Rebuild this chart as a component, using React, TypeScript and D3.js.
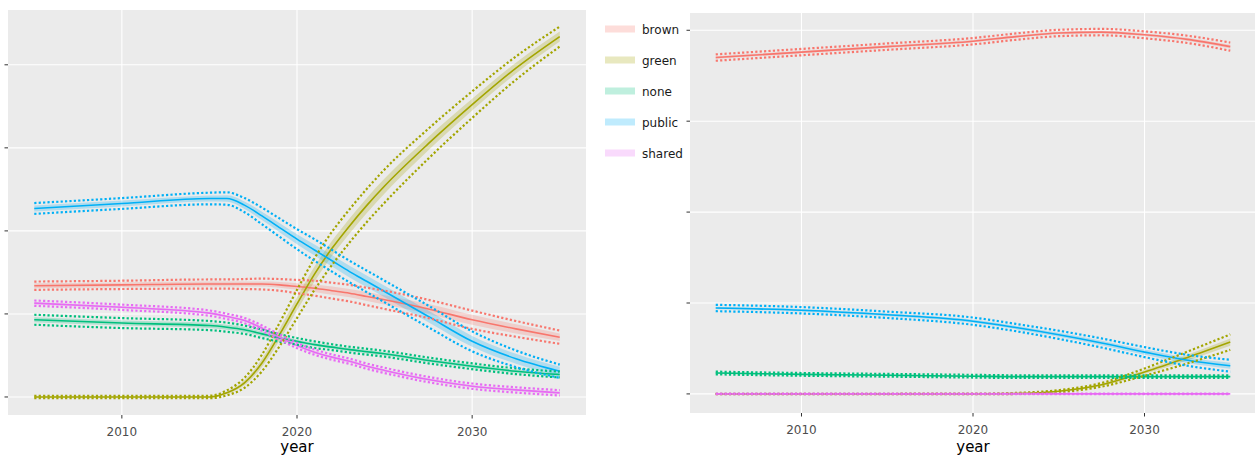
import React from "react";
import * as d3 from "d3";

// modes, in legend order
const modes = ["brown", "green", "none", "public", "shared"];
const modeColors = ["#F8766D", "#A3A500", "#00BF7D", "#00B0F6", "#E76BF3"];
const xTicks = [2010, 2020, 2030];
const yTicks = [0, 1, 2, 3, 4];

// left panel (one gridline step = 1 unit)
const leftYears = [2005, 2010, 2015, 2016, 2017, 2018, 2019, 2020, 2021, 2022, 2023, 2024, 2025, 2027.5, 2030, 2032.5, 2035];
const leftMid = [
  [1.34, 1.35, 1.36, 1.36, 1.36, 1.36, 1.35, 1.33, 1.31, 1.28, 1.25, 1.21, 1.17, 1.06, 0.93, 0.82, 0.72], // brown
  [0, 0, 0, 0.05, 0.17, 0.41, 0.75, 1.12, 1.48, 1.79, 2.06, 2.31, 2.54, 3.05, 3.52, 3.96, 4.34], // green
  [0.93, 0.89, 0.86, 0.84, 0.81, 0.76, 0.71, 0.67, 0.63, 0.6, 0.57, 0.545, 0.52, 0.44, 0.37, 0.31, 0.27], // none
  [2.27, 2.33, 2.39, 2.39, 2.31, 2.18, 2.04, 1.9, 1.77, 1.64, 1.51, 1.39, 1.27, 0.97, 0.67, 0.46, 0.31], // public
  [1.13, 1.08, 1.01, 0.97, 0.92, 0.83, 0.72, 0.62, 0.54, 0.48, 0.43, 0.37, 0.32, 0.21, 0.13, 0.085, 0.05], // shared
];
// half width of the shaded ribbon
const leftRibbon = [
  [0.03, 0.03, 0.03, 0.03, 0.03, 0.03, 0.035, 0.04, 0.045, 0.05, 0.05, 0.055, 0.055, 0.06, 0.06, 0.055, 0.045],
  [0.005, 0.005, 0.005, 0.015, 0.03, 0.05, 0.07, 0.08, 0.09, 0.09, 0.09, 0.09, 0.09, 0.08, 0.07, 0.065, 0.06],
  [0.03, 0.03, 0.03, 0.03, 0.03, 0.028, 0.025, 0.022, 0.02, 0.02, 0.02, 0.02, 0.02, 0.02, 0.02, 0.02, 0.02],
  [0.035, 0.035, 0.035, 0.04, 0.045, 0.05, 0.055, 0.06, 0.065, 0.07, 0.07, 0.07, 0.07, 0.07, 0.065, 0.06, 0.055],
  [0.015, 0.015, 0.015, 0.015, 0.015, 0.015, 0.015, 0.015, 0.015, 0.015, 0.015, 0.015, 0.015, 0.015, 0.015, 0.015, 0.015],
];
// half width of the dotted band
const leftBand = [
  [0.05, 0.05, 0.055, 0.055, 0.06, 0.065, 0.07, 0.08, 0.09, 0.095, 0.1, 0.105, 0.11, 0.11, 0.11, 0.095, 0.08],
  [0.015, 0.015, 0.015, 0.03, 0.06, 0.1, 0.14, 0.17, 0.19, 0.2, 0.2, 0.2, 0.2, 0.18, 0.16, 0.14, 0.12],
  [0.06, 0.06, 0.055, 0.055, 0.05, 0.05, 0.045, 0.04, 0.04, 0.035, 0.035, 0.035, 0.035, 0.035, 0.035, 0.035, 0.035],
  [0.065, 0.065, 0.07, 0.075, 0.085, 0.1, 0.11, 0.12, 0.13, 0.13, 0.13, 0.13, 0.13, 0.13, 0.12, 0.1, 0.08],
  [0.032, 0.032, 0.032, 0.032, 0.032, 0.032, 0.032, 0.032, 0.032, 0.032, 0.032, 0.032, 0.032, 0.032, 0.032, 0.032, 0.032],
];

// right panel
const rightYears = [2005, 2010, 2015, 2020, 2022.5, 2025, 2027.5, 2030, 2032.5, 2035];
const rightMid = [
  [3.7, 3.76, 3.82, 3.88, 3.93, 3.97, 3.98, 3.95, 3.9, 3.82],
  [0, 0, 0, 0, 0.005, 0.03, 0.1, 0.24, 0.4, 0.57],
  [0.23, 0.215, 0.205, 0.195, 0.19, 0.19, 0.19, 0.19, 0.19, 0.19],
  [0.945, 0.92, 0.87, 0.8, 0.73, 0.65, 0.56, 0.46, 0.37, 0.31],
  [0, 0, 0, 0, 0, 0, 0, 0, 0, 0],
];
const rightRibbon = [
  [0.015, 0.015, 0.015, 0.015, 0.015, 0.015, 0.015, 0.015, 0.018, 0.02],
  [0.001, 0.001, 0.001, 0.002, 0.004, 0.008, 0.012, 0.022, 0.032, 0.04],
  [0.008, 0.008, 0.008, 0.008, 0.008, 0.008, 0.008, 0.008, 0.008, 0.008],
  [0.015, 0.015, 0.015, 0.018, 0.02, 0.022, 0.025, 0.028, 0.03, 0.032],
  [0.002, 0.002, 0.002, 0.002, 0.002, 0.002, 0.002, 0.002, 0.002, 0.002],
];
const rightBand = [
  [0.035, 0.035, 0.035, 0.035, 0.035, 0.035, 0.035, 0.038, 0.04, 0.045],
  [0.002, 0.002, 0.002, 0.003, 0.006, 0.012, 0.02, 0.04, 0.065, 0.085],
  [0.015, 0.015, 0.015, 0.015, 0.015, 0.015, 0.015, 0.015, 0.015, 0.015],
  [0.035, 0.035, 0.035, 0.04, 0.04, 0.045, 0.05, 0.055, 0.06, 0.065],
  [0.004, 0.004, 0.004, 0.004, 0.004, 0.004, 0.004, 0.004, 0.004, 0.004],
];

const FONT = "DejaVu Sans, Verdana, sans-serif";

function Panel({ id, years, mid, ribbon, band, x0, x1, y0, y1, yDomain }) {
  const x = d3.scaleLinear().domain([2003.5, 2036.5]).range([x0, x1]);
  const y = d3.scaleLinear().domain(yDomain).range([y1, y0]);
  const curve = d3.curveMonotoneX;

  const series = modes.map((m, i) =>
    years.map((yr, j) => ({ yr, m: mid[i][j], r: ribbon[i][j], b: band[i][j] }))
  );

  const area = d3
    .area<any>()
    .x((d) => x(d.yr))
    .y0((d) => y(d.m - d.r))
    .y1((d) => y(d.m + d.r))
    .curve(curve);
  const center = d3.line<any>().x((d) => x(d.yr)).y((d) => y(d.m)).curve(curve);
  const upper = d3.line<any>().x((d) => x(d.yr)).y((d) => y(d.m + d.b)).curve(curve);
  const lower = d3.line<any>().x((d) => x(d.yr)).y((d) => y(d.m - d.b)).curve(curve);

  return (
    <g>
      <defs>
        <clipPath id={id}>
          <rect x={x0} y={y0} width={x1 - x0} height={y1 - y0} />
        </clipPath>
      </defs>
      <rect x={x0} y={y0} width={x1 - x0} height={y1 - y0} fill="#EBEBEB" />
      {yTicks.map((t) => (
        <line key={"gy" + t} x1={x0} x2={x1} y1={y(t)} y2={y(t)} stroke="#fff" strokeWidth={1.1} />
      ))}
      {xTicks.map((t) => (
        <line key={"gx" + t} x1={x(t)} x2={x(t)} y1={y0} y2={y1} stroke="#fff" strokeWidth={1.1} />
      ))}
      <g clipPath={`url(#${id})`}>
        {series.map((s, i) => (
          <path key={"r" + i} d={area(s)} fill={modeColors[i]} fillOpacity={0.25} />
        ))}
        {series.map((s, i) => (
          <path key={"c" + i} d={center(s)} fill="none" stroke={modeColors[i]} strokeWidth={1.6} />
        ))}
        {series.map((s, i) => (
          <g key={"b" + i} fill="none" stroke={modeColors[i]} strokeWidth={2.2} strokeDasharray="2.2 2.2">
            <path d={upper(s)} />
            <path d={lower(s)} />
          </g>
        ))}
      </g>
      {yTicks.map((t) => (
        <line key={"ty" + t} x1={x0 - 3.5} x2={x0} y1={y(t)} y2={y(t)} stroke="#333" strokeWidth={1} />
      ))}
      {xTicks.map((t) => (
        <g key={"tx" + t}>
          <line x1={x(t)} x2={x(t)} y1={y1} y2={y1 + 3.5} stroke="#333" strokeWidth={1} />
          <text x={x(t)} y={y1 + 21} textAnchor="middle" fontSize={12} fill="#4D4D4D" fontFamily={FONT}>
            {t}
          </text>
        </g>
      ))}
      <text x={(x0 + x1) / 2} y={452} textAnchor="middle" fontSize={15} fill="#000" fontFamily={FONT}>
        year
      </text>
    </g>
  );
}

export default function App() {
  const legendY = d3.scaleLinear().domain([0, 1]).range([29, 60]);
  return (
    <svg
      width={1255}
      height={455}
      style={{ position: "absolute", left: 0, top: 0, background: "#fff" }}
    >
      <Panel
        id="clipL"
        years={leftYears}
        mid={leftMid}
        ribbon={leftRibbon}
        band={leftBand}
        x0={8}
        x1={586}
        y0={10}
        y1={415}
        yDomain={[-0.217, 4.66]}
      />
      <Panel
        id="clipR"
        years={rightYears}
        mid={rightMid}
        ribbon={rightRibbon}
        band={rightBand}
        x0={690}
        x1={1256}
        y0={13}
        y1={413}
        yDomain={[-0.21, 4.19]}
      />
      {modes.map((m, i) => (
        <g key={m}>
          <rect x={605} y={legendY(i) - 3.5} width={30} height={7} fill={modeColors[i]} fillOpacity={0.25} />
          <text x={642} y={legendY(i) + 4.5} fontSize={12} fill="#1A1A1A" fontFamily={FONT}>
            {m}
          </text>
        </g>
      ))}
    </svg>
  );
}
